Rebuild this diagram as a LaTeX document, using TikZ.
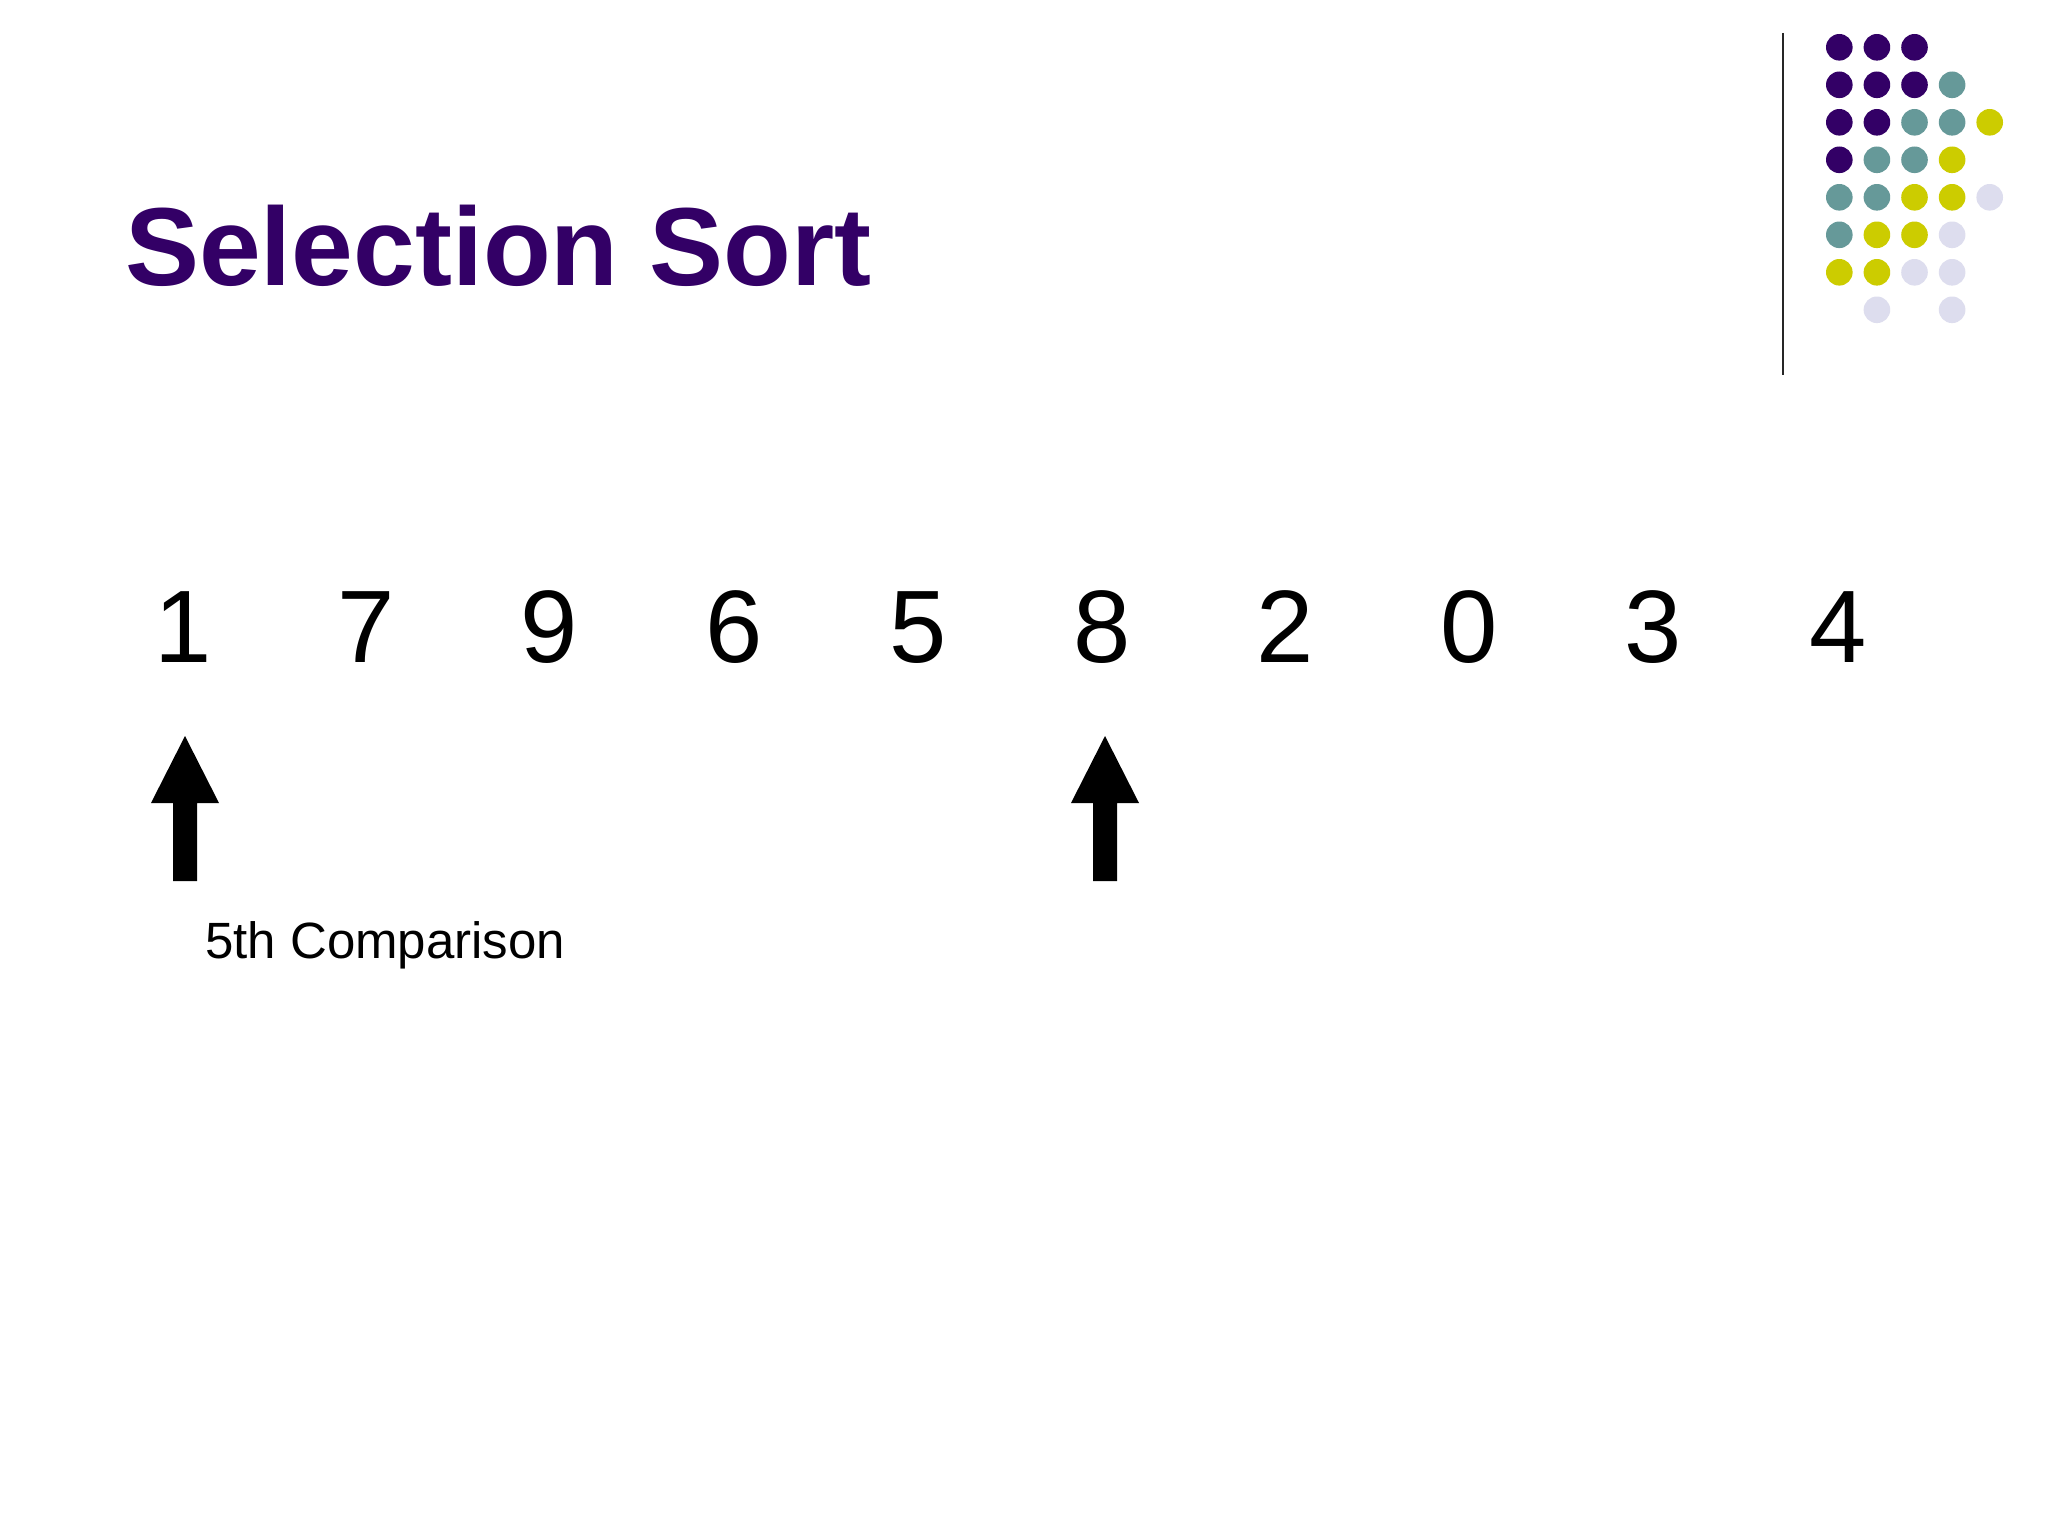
\documentclass[tikz,border=0pt]{standalone}
\usepackage{fontspec}
\setmainfont{Liberation Sans}
\definecolor{sspurple}{HTML}{330066}
\definecolor{ssteal}{HTML}{669999}
\definecolor{ssyellow}{HTML}{CCCC00}
\definecolor{sslav}{HTML}{DDDDEE}
\tikzset{
  dotP/.style={fill=sspurple},
  dotT/.style={fill=ssteal},
  dotY/.style={fill=ssyellow},
  dotL/.style={fill=sslav},
  digit/.style={anchor=base, inner sep=0pt, font=\fontsize{103}{120}\selectfont},
  ptr/.style={fill=black},
}
\begin{document}
\begin{tikzpicture}[x=1pt,y=-1pt]
\useasboundingbox[fill=white] (0,0) rectangle (2048,1536);
% title
\node[anchor=base west, inner sep=0pt, text=sspurple, font=\fontsize{111}{130}\selectfont\bfseries] (title) at (125,285) {Selection Sort};
% decoration line
\draw[line width=2.5pt, black!85] (1783,33) -- (1783,375);
% dots
\def\rr{13.3}
\foreach \r/\row in {0/{P,P,P},1/{P,P,P,T},2/{P,P,T,T,Y},3/{P,T,T,Y},4/{T,T,Y,Y,L},5/{T,Y,Y,L},6/{Y,Y,L,L}}{
  \foreach \c [count=\i from 0] in \row {
    \fill[dot\c] ({1839.3+37.6*\i},{47.3+37.5*\r}) circle (\rr);
  }
}
\fill[dotL] ({1839.3+37.6*1},{47.3+37.5*7}) circle (\rr);
\fill[dotL] ({1839.3+37.6*3},{47.3+37.5*7}) circle (\rr);
% digits
\foreach \d/\x [count=\k] in {1/183,7/366,9/549,6/734,5/918,8/1102,2/1285,0/1469,3/1653,4/1838}{
  \node[digit] (d\k) at (\x,662) {\d};
}
% arrows
\coordinate (tipA) at (185,736);
\coordinate (tipB) at (1105,736);
\foreach \t in {tipA,tipB}{
  \fill[ptr] (\t) -- ++(34,67) -- ++(-22,0) -- ++(0,78) -- ++(-24,0) -- ++(0,-78) -- ++(-22,0) -- cycle;
}
% label
\node[anchor=base west, inner sep=0pt, font=\fontsize{51}{60}\selectfont] (lbl) at (205,958) {5th Comparison};
\end{tikzpicture}
\end{document}
